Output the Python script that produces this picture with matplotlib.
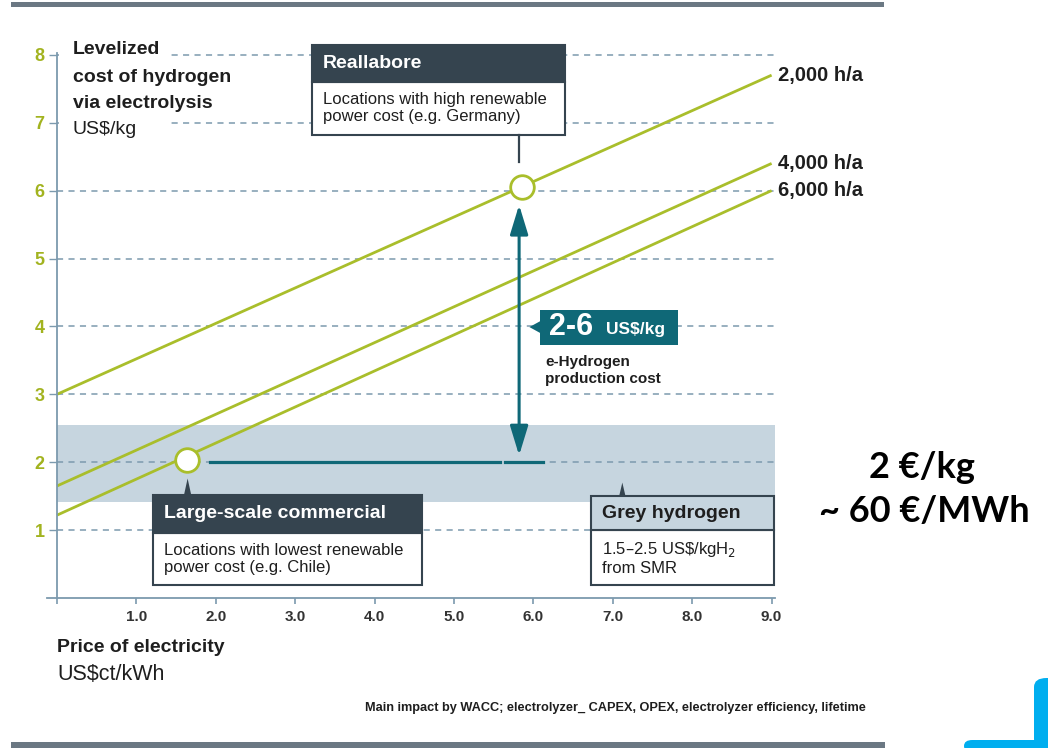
import matplotlib
matplotlib.use("Agg")
import matplotlib.pyplot as plt
from matplotlib.patches import Rectangle, Polygon, FancyBboxPatch

# data
price_ends = [0.0, 9.0]
lcoh_2000 = [3.0, 7.7]
lcoh_4000 = [1.65, 6.4]
lcoh_6000 = [1.22, 6.0]
line_labels = ["2,000 h/a", "4,000 h/a", "6,000 h/a"]
grey_band = [1.42, 2.55]
reallabore_pt = (5.86, 6.05)
commercial_pt = (1.64, 2.03)
x_ticks = [0, 1, 2, 3, 4, 5, 6, 7, 8, 9]
x_ticklabels = ["", "1.0", "2.0", "3.0", "4.0", "5.0", "6.0", "7.0", "8.0", "9.0"]
y_ticks = [1, 2, 3, 4, 5, 6, 7, 8]

GREEN = "#A9BE2B"
GREEN_TXT = "#A2B31F"
GRID = "#7C9AAE"
BAND = "#C6D5DF"
TEAL = "#0F6877"
DARK = "#35444F"
BAR = "#6B7883"
TXT = "#1E1E1E"

plt.rcParams["font.family"] = ["Liberation Sans", "DejaVu Sans"]

W, H = 1048, 748
fig = plt.figure(figsize=(W / 100, H / 100), dpi=100)


def fx(px):
    return px / W


def fy(py):
    return 1 - py / H


# axes placed so that x=0 -> px 57, x=9 -> px 772, y=0 -> px 598, y=8 -> px 55
x0, xs, y0, ys = 57, 79.4, 598, 67.9
xlim = (-0.25, 9.3)
ylim = (0, 8.5)
left = x0 + xlim[0] * xs
right = x0 + xlim[1] * xs
top = y0 - ylim[1] * ys
ax = fig.add_axes([fx(left), fy(y0), (right - left) / W, (y0 - top) / H])
ax.set_xlim(*xlim)
ax.set_ylim(*ylim)
ax.patch.set_alpha(0)

for s in ["top", "right"]:
    ax.spines[s].set_visible(False)
ax.spines["left"].set_position(("data", 0))
ax.spines["left"].set_bounds(0, 8.03)
ax.spines["bottom"].set_bounds(-0.13, 9.04)
for s in ["left", "bottom"]:
    ax.spines[s].set_color(GRID)
    ax.spines[s].set_linewidth(1.3)

ax.set_xticks(x_ticks)
ax.set_xticklabels(x_ticklabels, fontweight="bold", fontsize=11, color="#333333")
ax.set_yticks(y_ticks)
ax.set_yticklabels([str(v) for v in y_ticks], fontweight="bold", fontsize=13,
                   color=GREEN_TXT)
ax.tick_params(axis="x", direction="out", length=4.5, color=GRID, width=1.2, pad=4)
ax.tick_params(axis="y", direction="out", length=6, color=GRID, width=1.0, pad=3)

# grey hydrogen band and grid
ax.add_patch(Rectangle((0, grey_band[0]), 9.04, grey_band[1] - grey_band[0],
                       facecolor=BAND, edgecolor="none", zorder=0.5))
ax.hlines(y_ticks, 0, 9.05, colors=GRID, linewidth=1.1,
          linestyles=(0, (4, 3.5)), zorder=1)
# blank area behind the y title
ax.add_patch(Rectangle((0.02, 6.9), 1.41, 1.2, facecolor="white",
                       edgecolor="none", zorder=1.5))

# cost lines
for ys_, lab in zip([lcoh_2000, lcoh_4000, lcoh_6000], line_labels):
    ax.plot(price_ends, ys_, color=GREEN, linewidth=2.0, zorder=2,
            solid_capstyle="butt")
    ax.text(price_ends[1] + 0.08, ys_[1], lab, fontsize=14.5, fontweight="bold",
            color=TXT, va="center", ha="left")

# teal range arrow and base line
ax.plot([1.93, 5.58], [2, 2], color=TEAL, linewidth=2.3, zorder=3)
ax.plot([5.64, 6.12], [2, 2], color=TEAL, linewidth=2.3, zorder=3)
ax.annotate("", xy=(5.82, 5.79), xytext=(5.82, 2.1),
            arrowprops=dict(arrowstyle="<|-|>,head_length=1.8,head_width=0.55",
                            color=TEAL, lw=2.2, mutation_scale=10,
                            shrinkA=0, shrinkB=0), zorder=3)

# points
for pt in [reallabore_pt, commercial_pt]:
    ax.plot(*pt, "o", markersize=17, markerfacecolor="white",
            markeredgecolor=GREEN, markeredgewidth=2, zorder=4)


def box(x, y_top, w, h_head, h_body, head_color, head_text, head_txt_color, lines):
    ax.add_patch(Rectangle((x, y_top - h_head - h_body), w, h_body,
                           facecolor="white", edgecolor=DARK, linewidth=1.5, zorder=5))
    ax.add_patch(Rectangle((x, y_top - h_head), w, h_head, facecolor=head_color,
                           edgecolor=DARK, linewidth=1.5, zorder=5))
    ax.text(x + 0.14, y_top - h_head / 2, head_text, fontsize=14, fontweight="bold",
            color=head_txt_color, va="center", ha="left", zorder=6)
    ax.text(x + 0.14, y_top - h_head - 0.15, lines, fontsize=12, color=TXT,
            va="top", ha="left", zorder=6, linespacing=1.15)


box(3.21, 8.14, 3.19, 0.54, 0.78, DARK, "Reallabore", "white",
    "Locations with high renewable\npower cost (e.g. Germany)")
ax.plot([5.82, 5.82], [6.82, 6.42], color=DARK, linewidth=1.6, zorder=5)

box(1.21, 1.52, 3.39, 0.56, 0.77, DARK, "Large-scale commercial", "white",
    "Locations with lowest renewable\npower cost (e.g. Chile)")
ax.add_patch(Polygon([(1.60, 1.52), (1.645, 1.76), (1.69, 1.52)],
                     closed=True, facecolor=DARK, edgecolor="none", zorder=5))

box(6.73, 1.50, 2.30, 0.50, 0.81, BAND, "Grey hydrogen", TXT,
    "1.5\u20132.5 US\\$/kgH$_2$\nfrom SMR")
ax.add_patch(Polygon([(7.08, 1.50), (7.12, 1.70), (7.16, 1.50)],
                     closed=True, facecolor=DARK, edgecolor="none", zorder=5))

# 2-6 US$/kg label
ax.add_patch(Rectangle((6.08, 3.73), 1.74, 0.51, facecolor=TEAL,
                       edgecolor="none", zorder=5))
ax.add_patch(Polygon([(6.09, 4.08), (5.95, 3.99), (6.09, 3.90)], closed=True,
                     facecolor=TEAL, edgecolor="none", zorder=5))
ax.text(6.2, 3.99, "2-6", fontsize=22, fontweight="bold", color="white",
        va="center", ha="left", zorder=6)
ax.text(6.92, 3.96, "US$/kg", fontsize=12.5, fontweight="bold", color="white",
        va="center", ha="left", zorder=6)
ax.text(6.15, 3.58, "e-Hydrogen\nproduction cost", fontsize=11, fontweight="bold",
        color=TXT, va="top", ha="left", zorder=6, linespacing=1.25)

# axis titles
title_lines = ["Levelized", "cost of hydrogen", "via electrolysis", "US$/kg"]
title_rows = [50, 77, 103, 130]
for i, (t, row) in enumerate(zip(title_lines, title_rows)):
    fig.text(fx(73), fy(row), t, fontsize=14, color=TXT, va="center", ha="left",
             fontweight="bold" if i < 3 else "normal")
fig.text(fx(57), fy(648), "Price of electricity", fontsize=14, fontweight="bold",
         color=TXT, va="center", ha="left")
fig.text(fx(57), fy(675), "US$ct/kWh", fontsize=15.5, color=TXT, va="center",
         ha="left")
fig.text(fx(866), fy(708), "Main impact by WACC; electrolyzer_ CAPEX, OPEX, "
         "electrolyzer efficiency, lifetime", fontsize=9.2, fontweight="bold",
         color=TXT, va="center", ha="right")

# right-hand note
fig.text(fx(922), fy(468), "2 \u20ac/kg", fontsize=26, fontweight="bold",
         color="black", va="center", ha="center", family=["Lato", "DejaVu Sans"])
fig.text(fx(924), fy(512), "~ 60 \u20ac/MWh", fontsize=26, fontweight="bold",
         color="black", va="center", ha="center", family=["Lato", "DejaVu Sans"])

# slide decoration
fig.patches.append(Rectangle((fx(11), fy(7)), fx(884) - fx(11), 5 / H,
                             transform=fig.transFigure, facecolor=BAR,
                             edgecolor="none"))
fig.patches.append(Rectangle((fx(11), 0), fx(885) - fx(11), 6 / H,
                             transform=fig.transFigure, facecolor=BAR,
                             edgecolor="none"))
fig.patches.append(FancyBboxPatch((fx(1034), fy(748)), fx(40), 70 / H,
                                  boxstyle="round,pad=0,rounding_size=0.012",
                                  transform=fig.transFigure, facecolor="#00AEEF",
                                  edgecolor="none"))
fig.patches.append(FancyBboxPatch((fx(964), fy(752)), fx(100), 12 / H,
                                  boxstyle="round,pad=0,rounding_size=0.008",
                                  transform=fig.transFigure, facecolor="#00AEEF",
                                  edgecolor="none"))

fig.savefig("out.png", dpi=100)
